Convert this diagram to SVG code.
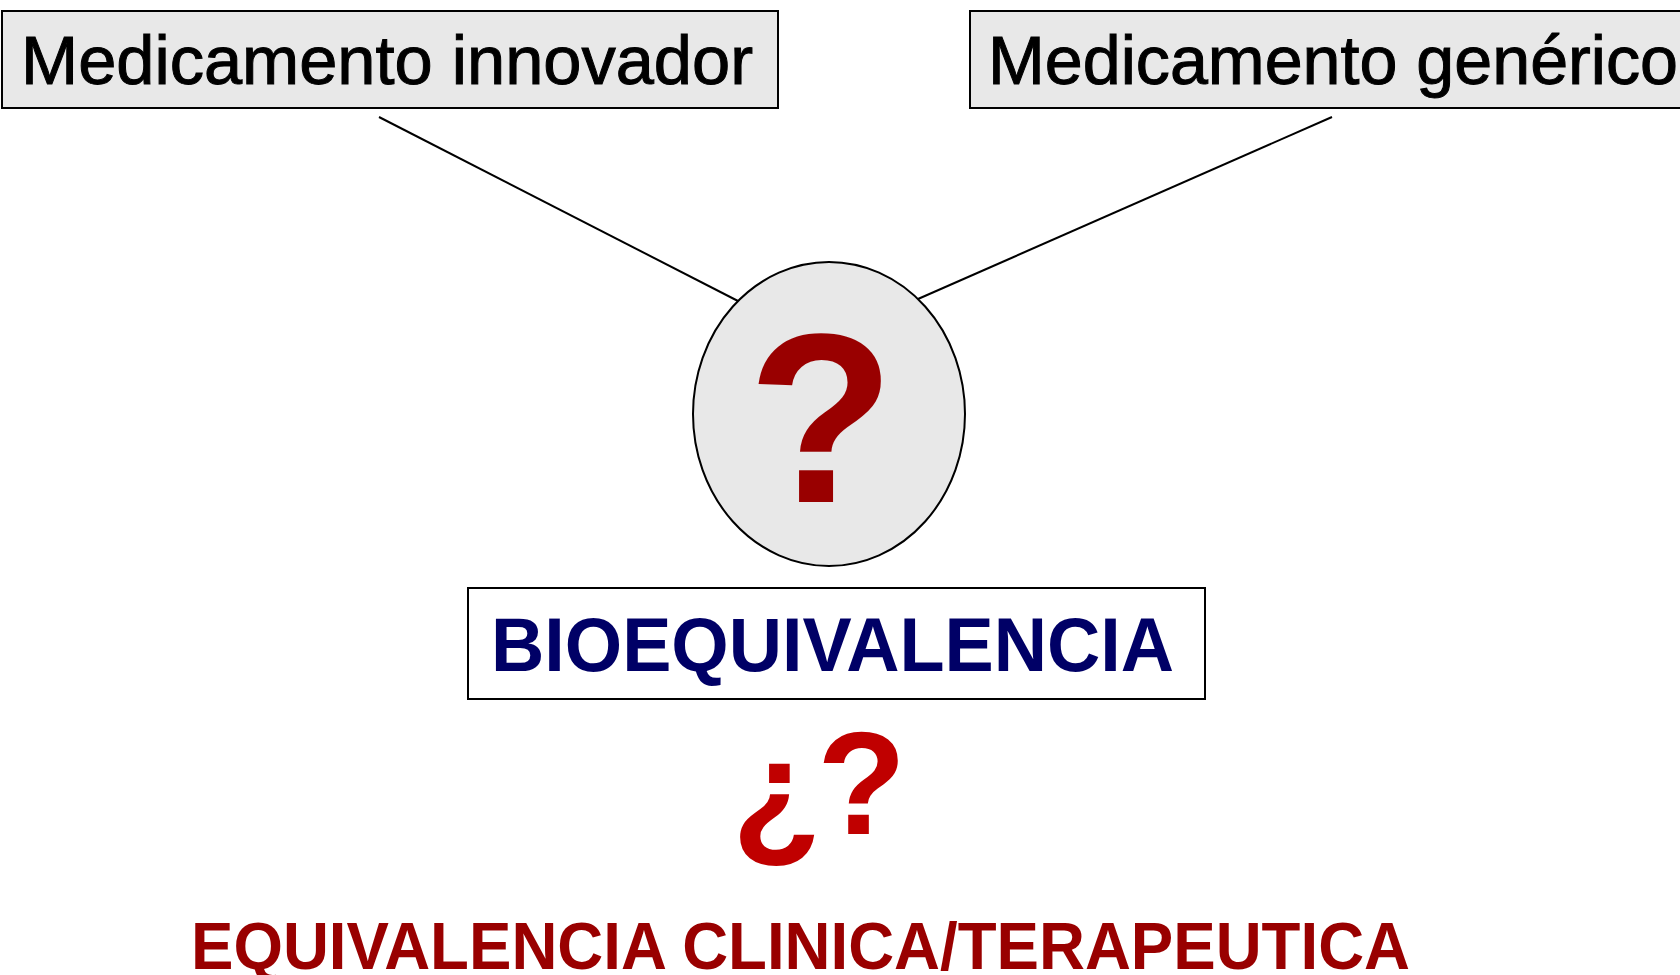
<svg xmlns="http://www.w3.org/2000/svg" width="1680" height="975" viewBox="0 0 1680 975">
<style>
.box{fill:#e8e8e8;stroke:#000;stroke-width:2}
.wbox{fill:#fff;stroke:#000;stroke-width:2}
.conn{stroke:#000;stroke-width:2;fill:none}
.t{font-family:"Liberation Sans Narrow","Liberation Sans",Arial,sans-serif}
.top{font-size:68px;fill:#000;stroke:#000;stroke-width:1}
.q{font-family:"Liberation Sans",Arial,sans-serif;font-weight:bold}
</style>
<rect width="1680" height="975" fill="#fff"/>
<g id="connectors">
<line class="conn" x1="379" y1="117" x2="738" y2="301"/>
<line class="conn" x1="1332" y1="117" x2="918" y2="299"/>
</g>
<g id="innovador">
<rect class="box" x="2" y="11" width="776" height="97"/>
<text class="t top" x="21" y="84" textLength="732" lengthAdjust="spacingAndGlyphs">Medicamento innovador</text>
</g>
<g id="generico">
<rect class="box" x="970" y="11" width="720" height="97"/>
<text class="t top" x="988" y="84" textLength="690" lengthAdjust="spacingAndGlyphs">Medicamento genérico</text>
</g>
<g id="pregunta">
<ellipse cx="829" cy="414" rx="136" ry="152" fill="#e8e8e8" stroke="#000" stroke-width="2"/>
<text class="q" x="821" y="502" font-size="241" fill="#990000" text-anchor="middle">?</text>
</g>
<g id="bioequivalencia">
<rect class="wbox" x="468" y="588" width="737" height="111"/>
<text class="t" x="491" y="671" font-size="76" font-weight="bold" fill="#000066" textLength="683" lengthAdjust="spacingAndGlyphs">BIOEQUIVALENCIA</text>
</g>
<g id="interrogacion">
<text class="q" x="732" y="841" font-size="146" fill="#c00000">¿</text>
<text class="q" x="817" y="834" font-size="146" fill="#c00000">?</text>
</g>
<g id="equivalencia">
<text class="t" x="191" y="969" font-size="66" font-weight="bold" fill="#990000" textLength="1219" lengthAdjust="spacingAndGlyphs">EQUIVALENCIA CLINICA/TERAPEUTICA</text>
</g>
</svg>
